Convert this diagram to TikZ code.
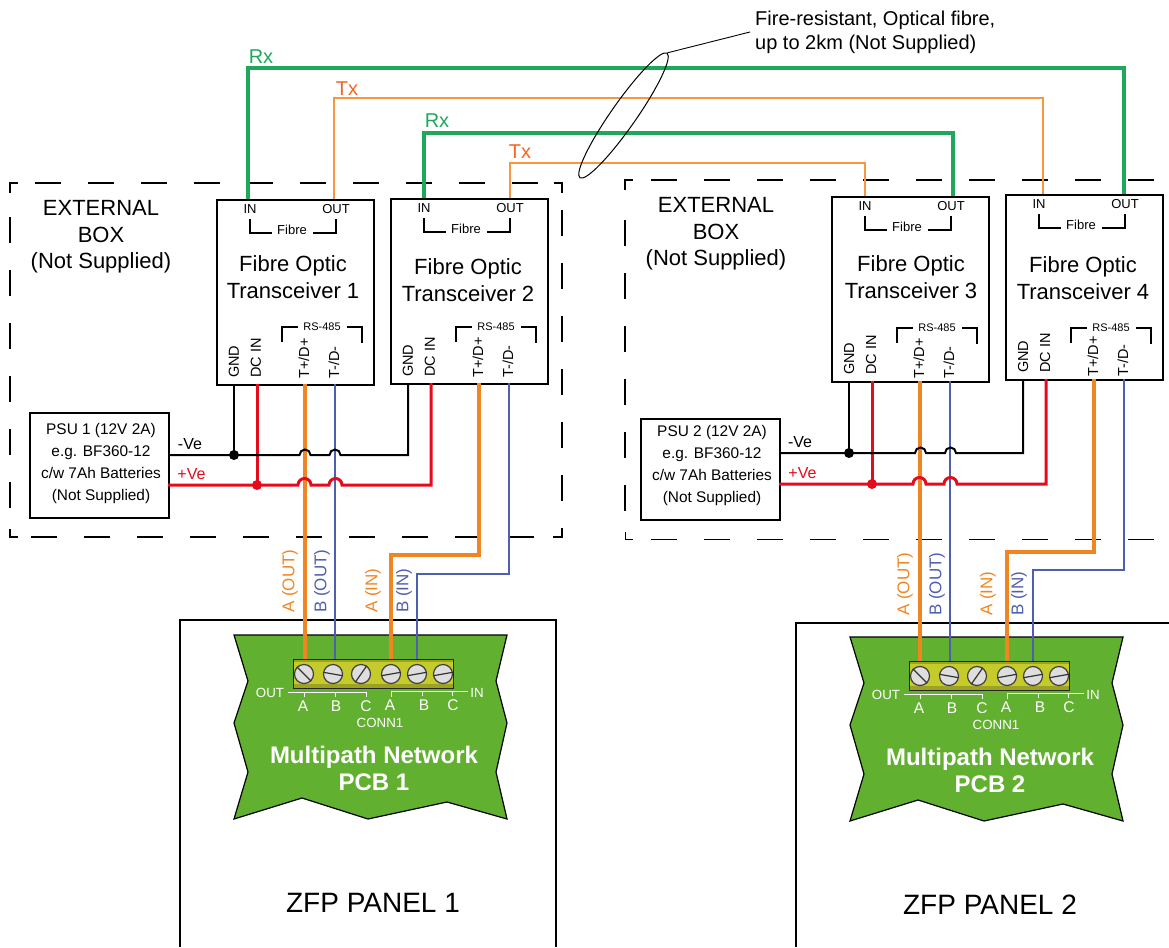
\documentclass[tikz,border=0pt]{standalone}
\usepackage{fontspec}
\usetikzlibrary{shapes.geometric}
\setmainfont{Liberation Sans}
\definecolor{rxgreen}{HTML}{1FA85B}
\definecolor{txorange}{HTML}{F7973F}
\definecolor{txlabel}{HTML}{F26522}
\definecolor{aorange}{HTML}{F08622}
\definecolor{bblue}{HTML}{4F5FB0}
\definecolor{pvred}{HTML}{E30B1C}
\definecolor{pcbgreen}{HTML}{62B030}
\definecolor{termyellow}{HTML}{C6CB2C}
\definecolor{termdark}{HTML}{9CA224}
\newcommand{\fs}[1]{\fontsize{#1}{#1}\selectfont}
\begin{document}
\begin{tikzpicture}[x=1pt,y=-1pt,
    txt/.style={inner sep=0pt,align=center},
    pinlabel/.style={txt,font=\fs{14.5},rotate=90,anchor=west},
    wirelabel/.style={txt,font=\fs{17},rotate=90,anchor=west},
    bracket/.style={line width=1.3pt},
    box/.style={draw,line width=1.5pt,anchor=north west,inner sep=0pt},
    extcorner/.style={line width=1.6pt},
    extbox/.style={line width=1.6pt,dash pattern=on 26pt off 27pt},
    rx/.style={rxgreen,line width=4pt},
    tx/.style={txorange,line width=2pt},
    awire/.style={aorange,line width=3.2pt},
    bwire/.style={bblue,line width=2pt},
    negwire/.style={black,line width=2pt},
    poswire/.style={pvred,line width=3pt},
    screw/.style={circle,draw=black!75,fill=black!13,line width=1.2pt,minimum size=19pt,inner sep=0pt},
    pcblabel/.style={txt,white,font=\fs{13.3}},
    bump/.style={start angle=180,end angle=0,radius=5.5pt}]
\useasboundingbox (0,0) rectangle (1169,947);

% external boxes and panels
\draw [extcorner] (18,183) -- (10,183) -- (10,193) (554,183) -- (562,183) -- (562,193) (553,537) -- (562,537) -- (562,528) (18,537) -- (10,537) -- (10,529);
\draw [extbox] (35,183) -- (553,183) (10,217) -- (10,529) (562,210) -- (562,528) (31,537) -- (553,537);
\draw [extcorner] (633,180) -- (625,180) -- (625,190);
\draw [extcorner,line width=1pt] (633,539) -- (625,539) -- (625,532);
\draw [extbox] (651,180) -- (1169,180) (625,220) -- (625,532);
\draw [extbox,line width=1pt] (651,539) -- (1169,539);
\draw [line width=1.7pt] (180,947) -- (180,620) -- (556,620) -- (556,947);
\draw [line width=1.7pt] (796,947) -- (796,623) -- (1169,623);
\node [txt,font=\fs{28}] (ZFPA) at (373,903) {ZFP PANEL 1};
\node [txt,font=\fs{28}] (ZFPB) at (990,905) {ZFP PANEL 2};
\node [txt,font=\fs{22}] (EXTA) at (101,237) {EXTERNAL\\[4.5pt]BOX\\[4.5pt](Not Supplied)};
\node [txt,font=\fs{22}] (EXTB) at (716,234) {EXTERNAL\\[4.5pt]BOX\\[4.5pt](Not Supplied)};

% transceivers
\foreach \n/\bx/\by/\dy/\nx/\rs/\py in {1/216/199/65/77/128/180,2/390/198/69/78/129/180,3/831/196/68/80/132/183,4/1005/194/71/78/134/183} {
    \node [box,minimum width=157pt,minimum height=185pt] (T\n) at (\bx,\by) {};
    \begin{scope}[shift={(\bx,\by)}]
        \node [txt,font=\fs{13}] (IN\n) at (34,10) {IN};
        \node [txt,font=\fs{13}] (OUT\n) at (120,10) {OUT};
        \node [txt,font=\fs{13}] (FIB\n) at (76,31) {Fibre};
        \draw [bracket] (34,20) -- (34,34) -- (56,34);
        \draw [bracket] (97,34) -- (120,34) -- (120,20);
        \node [txt,font=\fs{22}] (NAME\n) at (\nx,{\dy+13}) {Fibre Optic\\[4.5pt]Transceiver \n};
        \node [txt,font=\fs{11}] (RS\n) at (106,\rs) {RS-485};
        \draw [bracket] (66,\rs+15) -- (66,\rs) -- (82,\rs);
        \draw [bracket] (131,\rs) -- (146,\rs) -- (146,\rs+16);
        \node [pinlabel] (LG\n) at (18,179) {GND};
        \node [pinlabel] (LD\n) at (40,179) {DC IN};
        \node [pinlabel] (LP\n) at (88,\py) {T+/D+};
        \node [pinlabel] (LM\n) at (118,\py) {T-/D-};
        \coordinate (G\n) at (18,185);
        \coordinate (D\n) at (41,185);
        \coordinate (P\n) at (89,185);
        \coordinate (M\n) at (119,185);
    \end{scope}
}

% fibre
\coordinate (IA) at (248,199);
\coordinate (OA) at (334,199);
\coordinate (IB) at (424,198);
\coordinate (OB) at (510,198);
\coordinate (IC) at (865,196);
\coordinate (OC) at (953,196);
\coordinate (ID) at (1043,194);
\coordinate (OD) at (1124,194);
\draw [rx] (IA) -- (IA |- 0,68) -| (OD);
\draw [tx] (OA) -- (OA |- 0,98.5) -| (ID);
\draw [rx] (IB) -- (IB |- 0,133) -| (OC);
\draw [tx] (OB) -- (OB |- 0,163) -| (IC);
\node [txt,rxgreen,font=\fs{20}] (RXA) at (261,57) {Rx};
\node [txt,txlabel,font=\fs{20}] (TXA) at (347,89) {Tx};
\node [txt,rxgreen,font=\fs{20}] (RXB) at (437,121) {Rx};
\node [txt,txlabel,font=\fs{20}] (TXB) at (520,152) {Tx};
\node [draw,ellipse,line width=1pt,minimum width=152pt,minimum height=25pt,inner sep=0pt,rotate=55] (LOOP) at (623.5,115.5) {};
\node [txt,align=left,anchor=west,font=\fs{20}] (NOTE) at (755,32) {Fire-resistant, Optical fibre,\\[4pt]up to 2km (Not Supplied)};
\coordinate (LEAD) at (750,32);
\draw [line width=0.9pt] (LOOP.east) -- (LEAD);

% network boards
\foreach \n/\dx/\dy in {1/0/0,2/616/2} {
    \begin{scope}[shift={(\dx,\dy)}]
        \filldraw [fill=pcbgreen,draw=black,line width=1.2pt] (234,635) -- (507,635) -- (496,681) -- (507,723)
            -- (496,772) -- (507,819) -- (447,802) -- (368,819) -- (302,798) -- (234,819) -- (248,772) -- (234,723) -- (248,681) -- cycle;
        \node [draw=black!85,fill=termyellow,line width=1.2pt,anchor=north west,minimum width=160pt,minimum height=29pt,inner sep=0pt] (CONN\n) at (293,659) {};
        \fill [termdark] (294,684) rectangle (453,688);
        \fill [termdark] (294,660) rectangle (453,662);
        \node [txt,white,font=\bfseries\fs{24}] (PCB\n) at (374,768) {Multipath Network\\[3pt]PCB \n};
        \node [pcblabel] (LO\n) at (270,693) {OUT};
        \node [pcblabel] (LI\n) at (477,693) {IN};
        \node [pcblabel] (CN\n) at (380,723) {CONN1};
        \draw [white,line width=1pt] (288,692) -- (366,692) -- (366,697) (304,692) -- (304,697) (335,692) -- (335,697);
        \draw [white,line width=1pt] (391,697) -- (391,691) -- (468,691) (422,691) -- (422,696) (452,691) -- (452,696);
        \foreach \l/\lx/\ly in {A/303/706,B/336/706,C/366/706,A/390/705,B/424/705,C/453/705} {
            \node [pcblabel,font=\fs{15.5}] at (\lx,\ly) {\l};
        }
        \foreach \s/\sx/\ang/\bng in {1/304/135/315,2/333/-10/170,3/361/55/235,4/391/10/190,5/417/10/190,6/443/10/190} {
            \node [screw] (S\n\s) at (\sx,674) {};
            \draw [black!80,line width=1.2pt] (S\n\s.\ang) -- (S\n\s.\bng);
        }
    \end{scope}
}

% A and B lines
\draw [awire] (P1) -- (P1 |- CONN1.north);
\draw [bwire] (M1) -- (M1 |- CONN1.north);
\draw [awire] (P2) -- (P2 |- 0,555) -| (S14 |- CONN1.north);
\draw [bwire] (M2) -- (M2 |- 0,574) -| (S15 |- CONN1.north);
\draw [awire] (P3) -- (P3 |- CONN2.north);
\draw [bwire] (M3) -- (M3 |- CONN2.north);
\draw [awire] (P4) -- (P4 |- 0,552) -| (S24 |- CONN2.north);
\draw [bwire] (M4) -- (M4 |- 0,570) -| (S25 |- CONN2.north);
\foreach \lx/\ly/\c/\t in {290/613/aorange/A (OUT),322/613/bblue/B (OUT),373/613/aorange/A (IN),404/613/bblue/B (IN),905/616/aorange/A (OUT),937/616/bblue/B (OUT),988/616/aorange/A (IN),1019/616/bblue/B (IN)} {
    \node [wirelabel,\c] at (\lx,\ly) {\t};
}

% power supplies
\node [box,minimum width=139pt,minimum height=105pt] (PSUA) at (29,412) {};
\node [txt,font=\fs{15.4}] (PSUTA) at (101,464) {PSU 1 (12V 2A)\\[6.6pt]e.g. BF360-12\\[6.6pt]c/w 7Ah Batteries\\[6.6pt](Not Supplied)};
\node [box,minimum width=139pt,minimum height=101pt] (PSUB) at (640,418) {};
\node [txt,font=\fs{15.4}] (PSUTB) at (712,466) {PSU 2 (12V 2A)\\[6.6pt]e.g. BF360-12\\[6.6pt]c/w 7Ah Batteries\\[6.6pt](Not Supplied)};
\coordinate (NA) at (168,455);
\coordinate (VA) at (168,485);
\coordinate (NB) at (779,453);
\coordinate (VB) at (779,484);
\draw [negwire] (G1) -- (G1 |- NA);
\draw [poswire] (D1) -- (D1 |- VA);
\draw [negwire] (G3) -- (G3 |- NB);
\draw [poswire] (D3) -- (D3 |- VB);
\draw [negwire] (NA) -- (299.5,455) arc [bump] -- (329.5,455) arc [bump] -| (G2);
\draw [poswire] (VA) -- (298,485) arc [bump,radius=6.5pt] -- (329,485) arc [bump,radius=6.5pt] -| (D2);
\draw [negwire] (NB) -- (915,453) arc [bump] -- (945,453) arc [bump] -| (G4);
\draw [poswire] (VB) -- (913,484) arc [bump,radius=6.5pt] -- (944,484) arc [bump,radius=6.5pt] -| (D4);
\fill (G1 |- NA) circle (5pt);
\fill [pvred] (D1 |- VA) circle (5pt);
\fill (G3 |- NB) circle (5pt);
\fill [pvred] (D3 |- VB) circle (5pt);
\node [txt,font=\fs{16}] (NVA) at (190,444) {-Ve};
\node [txt,pvred,font=\fs{16}] (PVA) at (191.5,474) {+Ve};
\node [txt,font=\fs{16}] (NVB) at (800,442) {-Ve};
\node [txt,pvred,font=\fs{16}] (PVB) at (802.5,473) {+Ve};
\end{tikzpicture}
\end{document}
